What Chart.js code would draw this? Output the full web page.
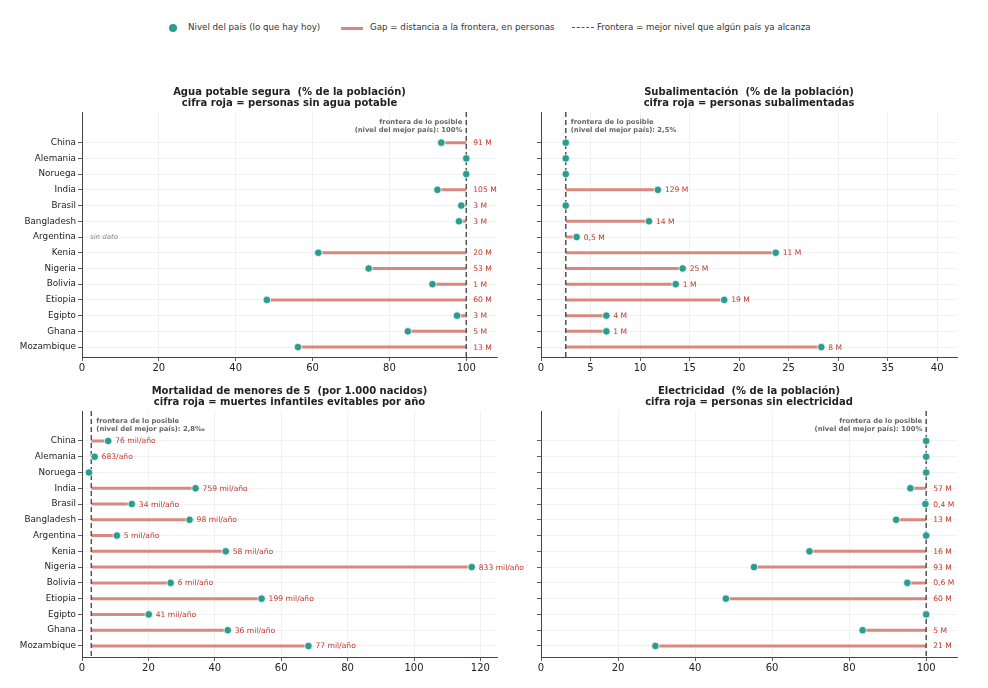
<!DOCTYPE html>
<html><head><meta charset="utf-8">
<script src="https://cdn.jsdelivr.net/npm/chart.js@4.4.1/dist/chart.umd.min.js"></script>
<style>
body{margin:0;background:#fff;width:988px;height:688px;overflow:hidden;position:relative;font-family:"DejaVu Sans",sans-serif}
canvas.c{position:absolute}
#legend{position:absolute;top:21px;left:0;width:988px;height:16px;font-size:8.7px;color:#333;white-space:nowrap}
#legend span{position:absolute}
</style></head><body>
<div id="legend">
 <span style="left:169px;top:3px;width:8px;height:8px;border-radius:50%;background:#2a9d8f"></span>
 <span style="left:188px;top:1px">Nivel del país (lo que hay hoy)</span>
 <span style="left:341px;top:6px;width:22px;height:3px;background:#d98880"></span>
 <span style="left:370px;top:1px">Gap = distancia a la frontera, en personas</span>
 <span style="left:572px;top:6px;width:22px;height:0;border-top:1.5px dashed #555"></span>
 <span style="left:597px;top:1px">Frontera = mejor nivel que algún país ya alcanza</span>
</div>
<canvas class="c" id="c1"></canvas>
<canvas class="c" id="c2"></canvas>
<canvas class="c" id="c3"></canvas>
<canvas class="c" id="c4"></canvas>
<script>
// ---------- DATA ----------
const countries = ["China","Alemania","Noruega","India","Brasil","Bangladesh","Argentina","Kenia","Nigeria","Bolivia","Etiopia","Egipto","Ghana","Mozambique"];

const waterVals   = [93.5, 100, 100, 92.5, 98.7, 98.1, null, 61.5, 74.6, 91.2, 48.1, 97.6, 84.8, 56.2];
const waterLabels = ["91 M","","","105 M","3 M","3 M","","20 M","53 M","1 M","60 M","3 M","5 M","13 M"];
const waterFrontier = 100;

const underVals   = [2.5, 2.5, 2.5, 11.8, 2.5, 10.9, 3.6, 23.7, 14.3, 13.6, 18.5, 6.6, 6.6, 28.3];
const underLabels = ["","","","129 M","","14 M","0,5 M","11 M","25 M","1 M","19 M","4 M","1 M","8 M"];
const underFrontier = 2.5;

const mortVals   = [7.9, 3.8, 2.1, 34.2, 15.0, 32.4, 10.5, 43.3, 117.4, 26.7, 54.1, 20.1, 43.9, 68.2];
const mortLabels = ["76 mil/año","683/año","","759 mil/año","34 mil/año","98 mil/año","5 mil/año","58 mil/año","833 mil/año","6 mil/año","199 mil/año","41 mil/año","36 mil/año","77 mil/año"];
const mortFrontier = 2.8;

const elecVals   = [100, 100, 100, 95.9, 99.8, 92.2, 100, 69.7, 55.3, 95.1, 48.0, 100, 83.5, 29.7];
const elecLabels = ["","","","57 M","0,4 M","13 M","","16 M","93 M","0,6 M","60 M","","5 M","21 M"];
const elecFrontier = 100;

const pctTicks   = [0, 20, 40, 60, 80, 100];
const underTicks = [0, 5, 10, 15, 20, 25, 30, 35, 40];
const mortTicks  = [0, 20, 40, 60, 80, 100, 120];

// ---------- STYLE ----------
const GREEN = '#2a9d8f', GAP = '#d98880', RED = '#c0392b', FRONT = '#555';
const FONT = '"DejaVu Sans", sans-serif';

const panels = [
  {id:'c1', left:0,   top:67,  w:510, h:315, padR:13, ymin:-1.95, ymax:13.63, vals:waterVals, labels:waterLabels, frontier:waterFrontier, xmax:108, ticks:pctTicks,
   title:["Agua potable segura  (% de la población)","cifra roja = personas sin agua potable"], atFrontier:true, annotLeft:true,
   annot:["frontera de lo posible","(nivel del mejor país): 100%"], showY:true, noData:true},
  {id:'c2', left:459, top:67,  w:513, h:315, padR:15, ymin:-1.95, ymax:13.63, vals:underVals, labels:underLabels, frontier:underFrontier, xmax:42, ticks:underTicks,
   title:["Subalimentación  (% de la población)","cifra roja = personas subalimentadas"], atFrontier:false, annotLeft:false,
   annot:["frontera de lo posible","(nivel del mejor país): 2,5%"], showY:false},
  {id:'c3', left:0,   top:366, w:545, h:316, padR:48, ymin:-1.9, ymax:13.7, vals:mortVals, labels:mortLabels, frontier:mortFrontier, xmax:125, ticks:mortTicks,
   title:["Mortalidad de menores de 5  (por 1.000 nacidos)","cifra roja = muertes infantiles evitables por año"], atFrontier:false, annotLeft:false,
   annot:["frontera de lo posible","(nivel del mejor país): 2,8‰"], showY:true},
  {id:'c4', left:459, top:366, w:513, h:316, padR:15, ymin:-1.9, ymax:13.7, vals:elecVals, labels:elecLabels, frontier:elecFrontier, xmax:108, ticks:pctTicks,
   title:["Electricidad  (% de la población)","cifra roja = personas sin electricidad"], atFrontier:true, annotLeft:true,
   annot:["frontera de lo posible","(nivel del mejor país): 100%"], showY:false}
];

const rowIdx = countries.map((_, i) => i);

const decorPlugin = {
  id: 'decor',
  afterDatasetsDraw(chart) {
    const p = chart.options.plugins.decor.panel;
    const ctx = chart.ctx, xs = chart.scales.x, ys = chart.scales.y, ca = chart.chartArea;
    ctx.save();
    // value labels
    ctx.font = '7.6px ' + FONT; ctx.fillStyle = RED; ctx.textBaseline = 'middle'; ctx.textAlign = 'left';
    p.vals.forEach((v, i) => {
      const lab = p.labels[i];
      if (v === null || !lab) return;
      const x = xs.getPixelForValue(p.atFrontier ? p.frontier : v) + 7;
      ctx.fillText(lab, x, ys.getPixelForValue(i) + 0.5);
    });
    if (p.noData) {
      p.vals.forEach((v, i) => {
        if (v !== null) return;
        ctx.font = 'italic 7px ' + FONT; ctx.fillStyle = '#888';
        ctx.fillText('sin dato', ca.left + 8, ys.getPixelForValue(i));
      });
    }
    // frontier annotation
    ctx.font = 'bold 6.8px ' + FONT; ctx.fillStyle = '#666'; ctx.textBaseline = 'middle';
    const fx = xs.getPixelForValue(p.frontier);
    ctx.textAlign = p.annotLeft ? 'right' : 'left';
    const ax = p.annotLeft ? fx - 4 : fx + 5;
    ctx.fillText(p.annot[0], ax, ca.top + 10);
    ctx.fillText(p.annot[1], ax, ca.top + 18);
    // title
    ctx.font = 'bold 10px ' + FONT; ctx.fillStyle = '#222'; ctx.textAlign = 'center';
    const cx = (ca.left + ca.right) / 2;
    ctx.fillText(p.title[0], cx, ca.top - 20);
    ctx.fillText(p.title[1], cx, ca.top - 9);
    ctx.restore();
  }
};

panels.forEach(p => {
  const cv = document.getElementById(p.id);
  cv.style.left = p.left + 'px'; cv.style.top = p.top + 'px';
  cv.width = p.w; cv.height = p.h;
  cv.style.width = p.w + 'px'; cv.style.height = p.h + 'px';

  const dots = [], gaps = [];
  p.vals.forEach((v, i) => {
    if (v === null) return;
    dots.push({x: v, y: i});
    if (Math.abs(v - p.frontier) > 0.05) {
      gaps.push({x: v, y: i}, {x: p.frontier, y: i}, {x: NaN, y: NaN});
    }
  });

  new Chart(cv, {
    type: 'line',
    data: {
      datasets: [
        {data: dots, showLine: false, pointRadius: 3.8, pointHoverRadius: 3.8, pointBackgroundColor: GREEN,
         pointBorderColor: '#fff', pointBorderWidth: 0.8, order: 1},
        {data: [{x: p.frontier, y: p.ymin}, {x: p.frontier, y: p.ymax}], borderColor: FRONT, borderWidth: 1.5,
         borderDash: [5, 3], pointRadius: 0, order: 2},
        {data: gaps, borderColor: GAP, borderWidth: 3, pointRadius: 0, spanGaps: false, order: 3, borderCapStyle: 'butt'}
      ]
    },
    options: {
      responsive: false, animation: false, devicePixelRatio: 1,
      layout: {padding: {top: 45, right: p.padR, left: 0, bottom: 0}},
      plugins: {legend: {display: false}, tooltip: {enabled: false}, decor: {panel: p}},
      scales: {
        x: {
          type: 'linear', min: 0, max: p.xmax,
          afterBuildTicks: s => { s.ticks = p.ticks.map(v => ({value: v})); },
          afterFit: s => { s.height = 25; },
          grid: {color: '#ededed', lineWidth: 0.8, tickColor: '#333', tickLength: 4},
          border: {color: '#444', width: 1},
          ticks: {font: {family: FONT, size: 10}, color: '#222', padding: 1, maxRotation: 0}
        },
        y: {
          type: 'linear', reverse: true, min: p.ymin, max: p.ymax,
          afterBuildTicks: s => { s.ticks = rowIdx.map(v => ({value: v})); },
          afterFit: s => { s.width = 82; },
          grid: {color: '#ededed', lineWidth: 0.8, tickColor: '#333', tickLength: 4},
          border: {color: '#444', width: 1},
          ticks: {font: {family: FONT, size: 8.8}, color: '#222', padding: 2,
                  callback: v => p.showY ? countries[v] : ''}
        }
      }
    },
    plugins: [decorPlugin]
  });
});
</script>
</body></html>
